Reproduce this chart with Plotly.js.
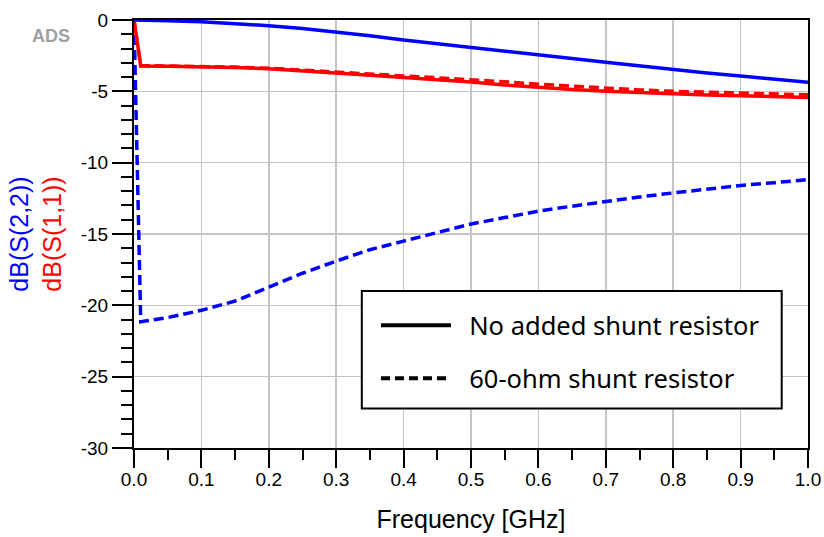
<!DOCTYPE html>
<html>
<head>
<meta charset="utf-8">
<script src="https://cdn.plot.ly/plotly-3.0.1.min.js"></script>
<style>html,body{margin:0;padding:0;background:#fff;}</style>
</head>
<body>
<div id="chart" style="width:824px;height:537px;"></div>
<script>
// Frequency sweep [GHz]
const freq = [0, 0.01, 0.05, 0.1, 0.15, 0.2, 0.25, 0.3, 0.35, 0.4, 0.45, 0.5, 0.55, 0.6, 0.65, 0.7, 0.75, 0.8, 0.85, 0.9, 0.95, 1.0];
// dB(S(2,2)) without shunt resistor (blue solid)
const s22NoShunt = [0, -0.02, -0.06, -0.13, -0.25, -0.4, -0.6, -0.83, -1.1, -1.4, -1.67, -1.95, -2.2, -2.45, -2.7, -2.96, -3.23, -3.5, -3.72, -3.93, -4.15, -4.36];
// dB(S(2,2)) with 60-ohm shunt resistor (blue dashed)
const s22Shunt60 = [0, -21.15, -20.86, -20.35, -19.7, -18.75, -17.75, -16.9, -16.1, -15.5, -14.9, -14.3, -13.85, -13.4, -13.05, -12.7, -12.4, -12.12, -11.85, -11.6, -11.4, -11.19];
// dB(S(1,1)) without shunt resistor (red solid)
const s11NoShunt = [0, -3.22, -3.24, -3.27, -3.33, -3.42, -3.55, -3.72, -3.87, -4.03, -4.18, -4.35, -4.55, -4.73, -4.88, -5.0, -5.1, -5.17, -5.25, -5.31, -5.37, -5.43];
// dB(S(1,1)) with 60-ohm shunt resistor (red dashed)
const s11Shunt60 = [0, -3.2, -3.22, -3.25, -3.3, -3.38, -3.5, -3.63, -3.77, -3.92, -4.05, -4.17, -4.33, -4.5, -4.65, -4.78, -4.9, -5.0, -5.07, -5.13, -5.19, -5.24];
const xTicks = [0, 0.1, 0.2, 0.3, 0.4, 0.5, 0.6, 0.7, 0.8, 0.9, 1.0];
const xTickText = ['0.0','0.1','0.2','0.3','0.4','0.5','0.6','0.7','0.8','0.9','1.0'];
const yTicks = [0, -5, -10, -15, -20, -25, -30];
const yTickText = ['0', '-5', '-10', '-15', '-20', '-25', '-30'];
const legendNames = ['No added shunt resistor', '60-ohm shunt resistor'];

const BLUE = '#0000ff', RED = '#ff0000';
const DASH = '10px,5px';
const NB = '\u00a0\u00a0';

const traces = [
  {x: freq, y: s22Shunt60, mode: 'lines', line: {color: BLUE, width: 3.5, dash: DASH}, showlegend: false},
  {x: freq, y: s11Shunt60, mode: 'lines', line: {color: RED, width: 3.5, dash: DASH}, showlegend: false},
  {x: freq, y: s11NoShunt, mode: 'lines', line: {color: RED, width: 3.5}, showlegend: false},
  {x: freq, y: s22NoShunt, mode: 'lines', line: {color: BLUE, width: 3.5}, showlegend: false},
  {x: [null], y: [null], mode: 'lines', name: NB + legendNames[0], legendgroup: 'a', line: {color: '#000', width: 4}},
  {x: [null], y: [null], mode: 'lines', name: NB + legendNames[1], legendgroup: 'b', line: {color: '#000', width: 4, dash: '9px,5px'}}
];

const tickFont = {family: 'Liberation Sans, Arial, sans-serif', size: 19, color: '#000'};

const layout = {
  width: 824, height: 537,
  margin: {l: 134, r: 16, t: 20, b: 89},
  paper_bgcolor: '#fff', plot_bgcolor: '#fff',
  showlegend: true,
  xaxis: {
    range: [0, 1], autorange: false,
    tickvals: xTicks, ticktext: xTickText,
    tickfont: {family: 'Liberation Sans, Arial, sans-serif', size: 19, color: '#000'},
    ticklabelstandoff: -5,
    ticks: 'outside', ticklen: 18, tickwidth: 2, tickcolor: '#000',
    minor: {dtick: 0.05, tick0: 0, ticks: 'outside', ticklen: 10, tickwidth: 2, tickcolor: '#000', showgrid: false},
    showgrid: true, gridcolor: '#c4c4c4', gridwidth: 1.5,
    showline: true, linecolor: '#000', linewidth: 2, mirror: true,
    zeroline: false,
    title: {text: 'Frequency [GHz]', font: {family: 'Liberation Sans, Arial, sans-serif', size: 25, color: '#000'}, standoff: 22},
    automargin: false
  },
  yaxis: {
    range: [-30, 0], autorange: false,
    tickvals: yTicks, ticktext: yTickText,
    tickfont: tickFont,
    ticks: 'outside', ticklen: 20, tickwidth: 2, tickcolor: '#000',
    minor: {dtick: 1, tick0: 0, ticks: 'outside', ticklen: 11, tickwidth: 2, tickcolor: '#000', showgrid: false},
    showgrid: true, gridcolor: '#c4c4c4', gridwidth: 1.5,
    showline: true, linecolor: '#000', linewidth: 2, mirror: true,
    zeroline: false,
    title: {text: '<span style="color:#0000ff">dB(S(2,2))</span><br><span style="color:#ff0000">dB(S(1,1))</span>', font: {family: 'Liberation Sans, Arial, sans-serif', size: 25}, standoff: 12},
    automargin: false
  },
  legend: {
    x: 0.359, y: 0.341, xanchor: 'left', yanchor: 'top',
    bgcolor: 'rgba(0,0,0,0)', borderwidth: 0,
    font: {family: 'Noto Sans, DejaVu Sans, sans-serif', size: 25.5, color: '#000'},
    itemwidth: 70, tracegroupgap: 17, traceorder: 'grouped'
  },
  shapes: [
    {type: 'rect', xref: 'paper', yref: 'paper', x0: 0.338, x1: 0.961, y0: 0.092, y1: 0.367,
     fillcolor: '#fff', line: {color: '#000', width: 2}, layer: 'above'}
  ],
  annotations: [
    {xref: 'paper', yref: 'paper', x: -0.123, y: 0.962, xanchor: 'center', yanchor: 'middle', showarrow: false,
     text: '<b>ADS</b>', font: {family: 'Liberation Sans, Arial, sans-serif', size: 18, color: '#a0a0a0'}}
  ]
};

Plotly.newPlot('chart', traces, layout, {displayModeBar: false, staticPlot: true});
</script>
</body>
</html>
